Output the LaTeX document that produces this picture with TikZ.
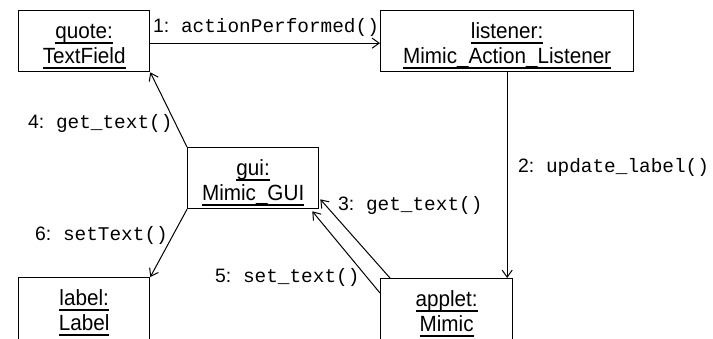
\documentclass[tikz,border=0pt]{standalone}
\usepackage{fontspec}
\setmainfont{Liberation Sans}
\newfontfamily\boxf[FakeStretch=0.94]{Liberation Sans}
\newfontfamily\monof{Liberation Mono}
\usetikzlibrary{arrows.meta,calc}
\newcommand\ulin[1]{\setbox0=\hbox{#1}\rlap{\rule[-5.5pt]{\wd0}{1.3pt}}\box0}
\newcommand\msgtxt[2]{{\fontsize{19.4pt}{22pt}\selectfont #1:}{\monof\fontsize{19.4pt}{22pt}\selectfont\ #2}}
\begin{document}
\begin{tikzpicture}[x=1pt,y=-1pt,
  box/.style={draw, line width=1.3pt, inner sep=0pt, anchor=north west},
  boxtxt/.style={anchor=base, inner sep=0pt, font=\boxf\fontsize{22pt}{25pt}\selectfont},
  msg/.style={line width=1pt, -{Straight Barb[length=7pt,width=10pt]}},
  mlab/.style={anchor=base west, inner sep=0pt}]
\useasboundingbox (0,0) rectangle (713,338);
% boxes
\node[box, minimum width=131pt, minimum height=61pt] (quote) at (18,10) {};
\node[box, minimum width=253pt, minimum height=61pt] (listener) at (380,10) {};
\node[box, minimum width=131pt, minimum height=61pt] (gui) at (187,147) {};
\node[box, minimum width=131pt, minimum height=80pt] (label) at (18,277) {};
\node[box, minimum width=132pt, minimum height=80pt] (applet) at (380,278) {};
% box texts
\node[boxtxt] (quote1) at ([yshift=-28pt]quote.north) {\ulin{quote:}};
\node[boxtxt] (quote2) at ([yshift=-53pt]quote.north) {\ulin{TextField}};
\node[boxtxt] (listener1) at ([yshift=-28pt]listener.north) {\ulin{listener:}};
\node[boxtxt] (listener2) at ([yshift=-53pt]listener.north) {\ulin{Mimic\_Action\_Listener}};
\node[boxtxt] (gui1) at ([yshift=-28pt]gui.north) {\ulin{gui:}};
\node[boxtxt] (gui2) at ([yshift=-53pt]gui.north) {\ulin{Mimic\_GUI}};
\node[boxtxt] (label1) at ([yshift=-28pt]label.north) {\ulin{label:}};
\node[boxtxt] (label2) at ([yshift=-53pt]label.north) {\ulin{Label}};
\node[boxtxt] (applet1) at ([yshift=-28pt]applet.north) {\ulin{applet:}};
\node[boxtxt] (applet2) at ([yshift=-53pt]applet.north) {\ulin{Mimic}};
% messages
\draw[msg] ([yshift=-2pt]quote.east) -- ([yshift=-2pt]listener.west);
\draw[msg] (listener.south) -- (listener.south |- applet.north);
\draw[msg] ([xshift=10pt]applet.north west) -- ([shift={(1pt,10pt)}]gui.south east);
\draw[msg] ([yshift=-15pt]applet.north west) -- ([shift={(-7pt,-2pt)}]gui.south east);
\draw[msg] (gui.north west) -- (quote.south east);
\draw[msg] (gui.south west) -- (label.north east);
% message labels
\node[mlab] (m1) at (153,32) {\msgtxt{1}{actionPerformed()}};
\node[mlab] (m2) at (518,172) {\msgtxt{2}{update\_label()}};
\node[mlab] (m3) at (338,210) {\msgtxt{3}{get\_text()}};
\node[mlab] (m4) at (28,128) {\msgtxt{4}{get\_text()}};
\node[mlab] (m5) at (215,282) {\msgtxt{5}{set\_text()}};
\node[mlab] (m6) at (35,240) {\msgtxt{6}{setText()}};
\end{tikzpicture}
\end{document}
